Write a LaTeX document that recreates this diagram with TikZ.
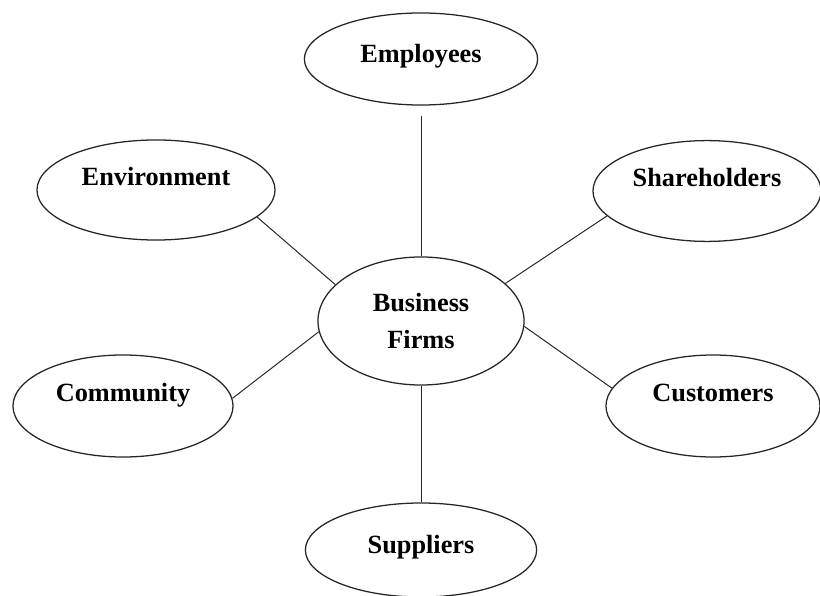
\documentclass[tikz,border=0pt]{standalone}
\usepackage{fontspec}
\setmainfont{Liberation Serif}
\usetikzlibrary{shapes.geometric}

\begin{document}
\begin{tikzpicture}[
  x=0.025cm, y=-0.025cm,
  party/.style 2 args={draw=black!85, line width=0.9pt, ellipse, inner sep=0pt,
    minimum width=#1, minimum height=#2,
    font=\fontsize{18.7}{22}\selectfont\bfseries,
    text height=12.5pt, text depth=18.5pt},
  core/.style={draw=black!85, line width=0.9pt, ellipse, inner sep=0pt,
    minimum width=5.15cm, minimum height=3.2cm, align=center,
    font=\fontsize{18.7}{26}\selectfont\bfseries},
  link/.style={black!85, line width=0.7pt}
]
\useasboundingbox (0,0) rectangle (820,596);

% Centre
\node[core] (biz) at (421,321) {Business\\Firms};

% Stakeholders
\node[party={5.83cm}{2.3cm}, text depth=8pt] (emp) at (421,59) {Employees};
\node[party={5.95cm}{2.5cm}] (env) at (156,190) {Environment};
\node[party={5.7cm}{2.52cm}] (sha) at (707,191) {Shareholders};
\node[party={5.5cm}{2.55cm}] (com) at (123,406) {Community};
\node[party={5.35cm}{2.55cm}] (cus) at (713,406) {Customers};
\node[party={5.78cm}{2.35cm}, text depth=8pt] (sup) at (421,550) {Suppliers};

% Connectors
\draw[link, shorten <=0.25cm] (emp) -- (biz);
\draw[link] (biz) -- (sup);
\foreach \n/\a/\b in {env/-15/157, sha/194/24, com/4/186, cus/170/-3} {
  \draw[link] (\n.\a) -- (biz.\b);
}

\end{tikzpicture}
\end{document}
